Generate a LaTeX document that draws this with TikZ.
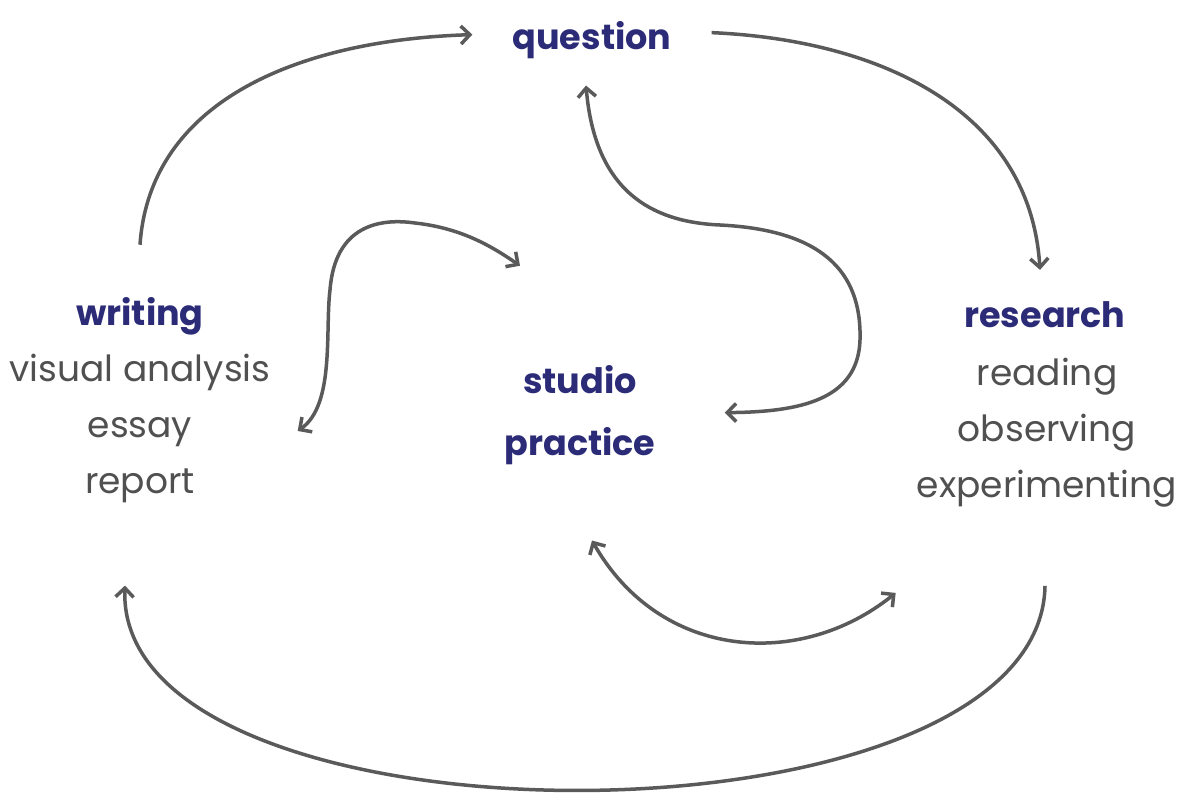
\documentclass[tikz,border=0pt]{standalone}
\usepackage{fontspec}
\setmainfont{Poppins}
\usetikzlibrary{arrows.meta,calc}
\definecolor{headblue}{HTML}{2B2B78}
\definecolor{listgray}{HTML}{505050}
\definecolor{linegray}{HTML}{5A5A5A}
\tikzset{
  head/.style={font=\fontsize{35}{62}\selectfont\bfseries, text=headblue, inner sep=0pt, anchor=base},
  items/.style={font=\fontsize{36}{56}\selectfont, text=listgray, align=center, inner sep=0pt, anchor=base},
  barb/.tip={Straight Barb[length=9pt,width=18pt]},
  loop/.style={draw=linegray, line width=3.5pt, -barb},
  twoway/.style={loop, barb-barb},
}
\begin{document}
\begin{tikzpicture}[x=1pt,y=-1pt]
\useasboundingbox[fill=white] (0,0) rectangle (1178,800);
% the four stages (base = last line)
\node[head] (question) at (592,50) {question};
\node[head] (writing) at (140,325) {writing};
\node[items] (writinglist) at (140,493) {visual analysis\\essay\\report};
\node[head,align=center] (studio) at (580,455) {studio\\practice};
\node[head] (research) at (1045,327) {research};
\node[items] (researchlist) at (1047,497) {reading\\observing\\experimenting};
% outer cycle
\draw[loop] ($(writing.north)+(0,-52)$) .. controls (150,100) and (300,40) .. ($(question.west)+(-40,-6)$);
\draw[loop] ($(question.east)+(40,-8)$) .. controls (880,40) and (1030,110) .. ($(research.north)+(-5,-31)$);
\draw[loop] ($(researchlist.south)+(-2,79)$) .. controls (1040,858) and (115,858) .. ($(writinglist.south)+(-15,83)$);
% links to studio practice
\draw[twoway] ($(writinglist.east)+(27,3)$) .. controls (335,405) and (325,330) .. (330,290)
  .. controls (335,225) and (380,218) .. (415,223) .. controls (460,228) and (490,245) .. ($(studio.north)+(-60,-99)$);
\draw[twoway] ($(question.south)+(-6,26)$) .. controls (595,190) and (650,222) .. (720,225)
  .. controls (820,230) and (862,270) .. (860,340) .. controls (858,400) and (800,412) .. ($(studio.east)+(69,-2)$);
\draw[twoway] ($(studio.south)+(12,76)$) .. controls (660,660) and (800,670) .. ($(researchlist.south west)+(-21,86)$);
\end{tikzpicture}
\end{document}
